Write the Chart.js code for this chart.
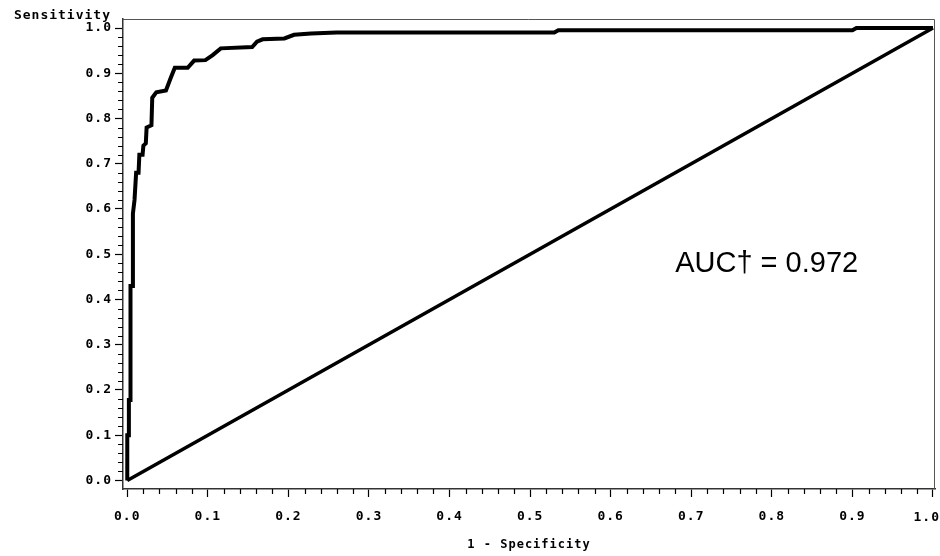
<!DOCTYPE html>
<html lang="en">
  <head>
    <meta charset="UTF-8" />
    <title>ROC Curve</title>
    <style>
      html, body {
        margin: 0;
        padding: 0;
        background: #fff;
      }
      .wrap {
        width: 940px;
        height: 556px;
      }
    </style>
  </head>
  <body>
    <div class="wrap">
      <canvas id="rocChart" width="940" height="556"></canvas>
    </div>

    <script src="https://cdn.jsdelivr.net/npm/chart.js"></script>
    <script>
      // Tick positions on both axes
      const xTicks = [0, 0.1, 0.2, 0.3, 0.4, 0.5, 0.6, 0.7, 0.8, 0.9, 1.0];
      const yTicks = [0, 0.1, 0.2, 0.3, 0.4, 0.5, 0.6, 0.7, 0.8, 0.9, 1.0];
      const minorStep = 0.02;

      // ROC curve (1 - specificity, sensitivity)
      const rocFpr = [
        0, 0, 0.002, 0.002, 0.004, 0.004, 0.007, 0.007, 0.009, 0.011,
        0.014, 0.015, 0.019, 0.02, 0.023, 0.024, 0.03, 0.031, 0.036, 0.048,
        0.054, 0.059, 0.075, 0.083, 0.097, 0.106, 0.116, 0.155, 0.161, 0.168,
        0.195, 0.207, 0.228, 0.26, 0.53, 0.535, 0.9, 0.905, 1.0,
      ];
      const rocTpr = [
        0, 0.1, 0.1, 0.178, 0.178, 0.43, 0.43, 0.59, 0.62, 0.68,
        0.68, 0.72, 0.72, 0.74, 0.745, 0.78, 0.785, 0.846, 0.858, 0.862,
        0.89, 0.912, 0.912, 0.928, 0.929, 0.94, 0.955, 0.958, 0.97, 0.975,
        0.977, 0.985, 0.988, 0.99, 0.99, 0.995, 0.995, 1.0, 1.0,
      ];

      // Chance line
      const chanceFpr = [0, 1];
      const chanceTpr = [0, 1];

      const aucText = "AUC\u2020 = 0.972";
      const aucPos = { x: 0.68, y: 0.478 };

      const monoFamily = "'DejaVu Sans Mono', monospace";
      const tickFont = { family: monoFamily, size: 13, weight: "bold" };
      const titleFont = { family: monoFamily, size: 12, weight: "bold" };

      function toPoints(xs, ys) {
        return xs.map((x, i) => ({ x: x, y: ys[i] }));
      }

      function fmt(v) {
        return Number(v).toFixed(1);
      }

      // Minor ticks, frame, y title, last x label and the AUC note
      const extras = {
        id: "extras",
        beforeDraw(chart) {
          chart.ctx.letterSpacing = "1px";
        },
        afterDraw(chart) {
          const ctx = chart.ctx;
          const area = chart.chartArea;
          const xs = chart.scales.x;
          const ys = chart.scales.y;
          ctx.save();
          ctx.strokeStyle = "#000";
          ctx.lineWidth = 1.2;

          // minor ticks
          ctx.beginPath();
          for (let i = 0; i <= 50; i++) {
            if (i % 5 === 0) continue;
            const v = i * minorStep;
            const px = Math.round(xs.getPixelForValue(v)) + 0.5;
            ctx.moveTo(px, area.bottom);
            ctx.lineTo(px, area.bottom + 5);
            const py = Math.round(ys.getPixelForValue(v)) + 0.5;
            ctx.moveTo(area.left, py);
            ctx.lineTo(area.left - 5, py);
          }
          ctx.stroke();

          // top and right edges of the frame
          ctx.strokeStyle = "#555";
          ctx.lineWidth = 1;
          ctx.beginPath();
          ctx.moveTo(area.left, area.top + 0.5);
          ctx.lineTo(area.right - 0.5, area.top + 0.5);
          ctx.lineTo(area.right - 0.5, area.bottom);
          ctx.stroke();

          ctx.fillStyle = "#000";
          ctx.font = "bold 13px " + monoFamily;

          // last x label is pushed in so it stays on the canvas
          const last = xTicks[xTicks.length - 1];
          const lastText = fmt(last);
          const w = ctx.measureText(lastText).width;
          const lx = Math.min(xs.getPixelForValue(last), chart.width - w / 2);
          ctx.textAlign = "center";
          ctx.textBaseline = "middle";
          ctx.fillText(lastText, lx, area.bottom + 8 + 12 + 9);

          // y axis title sits above the axis
          ctx.textAlign = "right";
          ctx.textBaseline = "alphabetic";
          ctx.fillText("Sensitivity", area.left - 12, area.top);

          // AUC note
          ctx.letterSpacing = "0px";
          ctx.font = "29px 'Liberation Sans', Arial, sans-serif";
          ctx.textAlign = "left";
          ctx.textBaseline = "middle";
          ctx.fillText(aucText, xs.getPixelForValue(aucPos.x), ys.getPixelForValue(aucPos.y));
          ctx.restore();
          ctx.letterSpacing = "0px";
        },
      };

      const ctx = document.getElementById("rocChart").getContext("2d");
      new Chart(ctx, {
        type: "scatter",
        data: {
          datasets: [
            {
              label: "ROC",
              data: toPoints(rocFpr, rocTpr),
              showLine: true,
              borderColor: "#000",
              borderWidth: 4,
              borderJoinStyle: "miter",
              pointRadius: 0,
              tension: 0,
            },
            {
              label: "Chance",
              data: toPoints(chanceFpr, chanceTpr),
              showLine: true,
              borderColor: "#000",
              borderWidth: 3.5,
              pointRadius: 0,
            },
          ],
        },
        options: {
          responsive: false,
          animation: false,
          events: [],
          layout: {
            padding: { top: 19, left: 85, right: 5, bottom: 0 },
          },
          plugins: {
            legend: { display: false },
            tooltip: { enabled: false },
          },
          scales: {
            x: {
              type: "linear",
              min: -0.0053,
              max: 1.0025,
              afterBuildTicks: (axis) => {
                axis.ticks = xTicks.map((v) => ({ value: v }));
              },
              afterFit: (axis) => {
                axis.height = 67;
                axis.paddingLeft = 0;
                axis.paddingRight = 0;
              },
              ticks: {
                color: "#000",
                font: tickFont,
                padding: 12,
                maxRotation: 0,
                autoSkip: false,
                // the last label is drawn by the plugin above
                callback: (v) => (v === xTicks[xTicks.length - 1] ? "" : fmt(v)),
              },
              grid: {
                drawOnChartArea: false,
                tickLength: 8,
                tickColor: "#000",
                tickWidth: 1.2,
              },
              border: { display: true, color: "#333", width: 1.5 },
              title: {
                display: true,
                text: "1 - Specificity",
                color: "#000",
                font: titleFont,
                padding: { top: 0, bottom: 4 },
              },
            },
            y: {
              type: "linear",
              min: -0.0188,
              max: 1.0199,
              afterBuildTicks: (axis) => {
                axis.ticks = yTicks.map((v) => ({ value: v }));
              },
              afterFit: (axis) => {
                axis.width = 38;
                axis.paddingTop = 0;
                axis.paddingBottom = 0;
              },
              ticks: {
                color: "#000",
                font: tickFont,
                padding: 3,
                autoSkip: false,
                callback: (v) => fmt(v),
              },
              grid: {
                drawOnChartArea: false,
                tickLength: 8,
                tickColor: "#000",
                tickWidth: 1.2,
              },
              border: { display: true, color: "#333", width: 1.5 },
            },
          },
        },
        plugins: [extras],
      });
    </script>
  </body>
</html>
